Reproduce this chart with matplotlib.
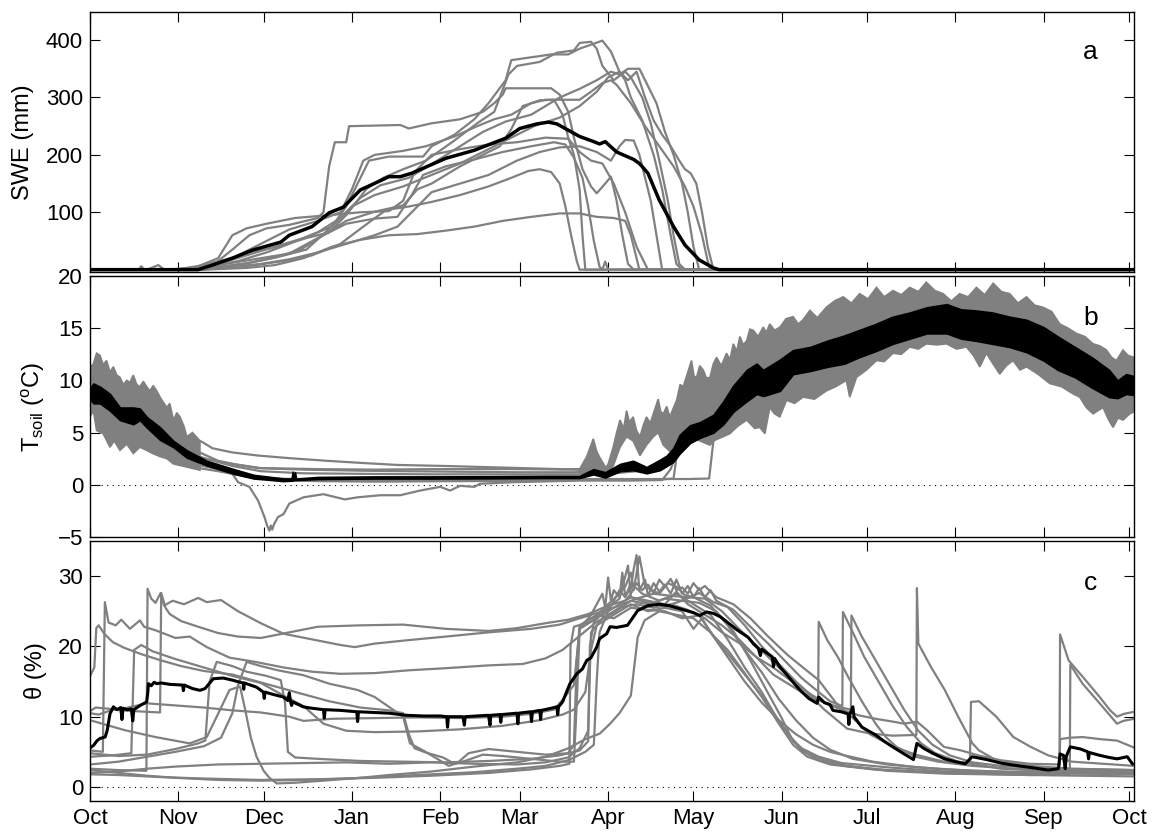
import matplotlib
matplotlib.use('Agg')
import matplotlib.pyplot as plt
import numpy as np

plt.rcParams['font.family'] = ['Liberation Sans', 'DejaVu Sans']
plt.rcParams['mathtext.fontset'] = 'custom'
plt.rcParams['mathtext.rm'] = 'Liberation Sans'
plt.rcParams['mathtext.it'] = 'Liberation Sans:italic'

# x axis is day of the water year, 0 = 1 October
month_days = [0, 31, 61, 92, 123, 151, 182, 212, 243, 273, 304, 335, 365]
month_labels = ['Oct', 'Nov', 'Dec', 'Jan', 'Feb', 'Mar', 'Apr', 'May',
                'Jun', 'Jul', 'Aug', 'Sep', 'Oct']
x_end = 366.8

GREY = '#808080'

# ---- (a) snow water equivalent, mm, per site: (day, swe)
swe_s1 = [(0, 0), (25, 0), (38, 3), (45, 15), (50, 35), (56, 60), (62, 72), (70, 78), (80, 90), (82, 100),
          (84, 180), (86, 222), (90, 222), (91, 250), (109, 252), (112, 246), (120, 255), (130, 262),
          (138, 275), (142, 290), (145, 305), (146, 316), (162, 316), (165, 305), (168, 275), (170, 230),
          (173, 175), (176, 145), (178, 133), (181, 150), (183, 162), (185, 120), (187, 60), (189, 10),
          (191, 0), (x_end, 0)]
swe_s2 = [(0, 0), (30, 0), (42, 5), (50, 20), (60, 45), (70, 70), (80, 85), (88, 100), (92, 140), (96, 190),
          (100, 200), (110, 207), (118, 215), (128, 232), (136, 250), (142, 262), (148, 270), (155, 290),
          (160, 296), (172, 296), (176, 310), (180, 325), (183, 330), (185, 322), (190, 290), (195, 250),
          (200, 215), (205, 180), (209, 145), (212, 110), (215, 60), (217, 15), (218, 0), (x_end, 0)]
swe_s3 = [(0, 0), (17, 0), (18, 6), (19, 0), (35, 0), (45, 10), (55, 25), (65, 40), (75, 55), (85, 75),
          (90, 110), (95, 160), (98, 190), (105, 197), (117, 197), (120, 215), (128, 235), (135, 262),
          (140, 290), (146, 330), (148, 365), (155, 370), (162, 375), (168, 375), (172, 385), (176, 392),
          (180, 399), (183, 380), (186, 345), (188, 330), (190, 300), (194, 260), (198, 200), (201, 140),
          (204, 60), (206, 10), (208, 0), (x_end, 0)]
swe_s4 = [(0, 0), (30, 0), (40, 8), (48, 18), (56, 30), (66, 40), (76, 55), (84, 65), (90, 95), (97, 140),
          (103, 160), (110, 175), (118, 190), (128, 225), (136, 255), (142, 275), (147, 340), (150, 355),
          (158, 362), (164, 378), (170, 382), (172, 395), (176, 397), (178, 385), (180, 355), (184, 330),
          (188, 345), (190, 335), (194, 300), (197, 255), (200, 190), (203, 120), (205, 60), (207, 10),
          (209, 0), (x_end, 0)]
swe_s5 = [(0, 0), (32, 0), (42, 5), (52, 15), (62, 30), (70, 45), (80, 65), (88, 90), (95, 125), (102, 147),
          (112, 160), (122, 190), (130, 215), (138, 240), (146, 258), (155, 270), (165, 300), (172, 315),
          (178, 330), (183, 345), (186, 340), (189, 350), (193, 350), (196, 320), (199, 290), (202, 240),
          (205, 200), (208, 150), (210, 100), (212, 40), (214, 0), (x_end, 0)]
swe_s6 = [(0, 0), (36, 0), (46, 5), (56, 12), (66, 22), (76, 35), (86, 80), (92, 110), (100, 130), (110, 145),
          (120, 165), (130, 185), (140, 210), (148, 230), (156, 250), (165, 265), (172, 285), (178, 310),
          (182, 335), (186, 345), (189, 330), (192, 345), (195, 300), (198, 260), (201, 235), (204, 215),
          (207, 190), (209, 175), (211, 168), (213, 150), (215, 100), (217, 40), (219, 0), (x_end, 0)]
swe_s7 = [(0, 0), (34, 0), (44, 4), (54, 10), (64, 20), (74, 35), (82, 60), (90, 85), (100, 101), (110, 112),
          (115, 140), (120, 150), (130, 180), (138, 200), (144, 215), (148, 245), (152, 285), (158, 295),
          (163, 296), (166, 270), (168, 230), (170, 200), (172, 140), (173, 60), (174, 0), (x_end, 0)]
swe_s8 = [(0, 0), (30, 0), (40, 5), (50, 12), (60, 20), (70, 28), (80, 55), (90, 80), (100, 89), (108, 92),
          (113, 130), (117, 165), (125, 180), (135, 192), (145, 205), (155, 215), (163, 222), (167, 218),
          (170, 195), (173, 160), (175, 110), (177, 50), (179, 5), (180, 0), (181, 14), (182, 0), (x_end, 0)]
swe_s9 = [(0, 0), (40, 0), (50, 5), (60, 10), (70, 18), (80, 30), (90, 45), (100, 60), (108, 75), (115, 110),
          (120, 135), (130, 150), (140, 165), (150, 190), (158, 205), (165, 213), (172, 215), (178, 205),
          (183, 190), (186, 215), (188, 226), (191, 225), (193, 200), (195, 160), (197, 120), (199, 60),
          (201, 0), (x_end, 0)]
swe_s10 = [(0, 0), (38, 0), (48, 3), (58, 8), (68, 15), (78, 25), (88, 45), (96, 75), (104, 104), (112, 110),
           (120, 118), (130, 130), (140, 145), (148, 160), (154, 172), (158, 175), (162, 170), (165, 150),
           (167, 110), (169, 60), (171, 15), (172, 0), (x_end, 0)]
swe_s11 = [(0, 0), (40, 0), (55, 3), (65, 8), (75, 20), (85, 40), (95, 52), (105, 60), (115, 62), (125, 68),
           (135, 75), (145, 85), (155, 92), (165, 98), (172, 98), (178, 92), (184, 90), (188, 85), (190, 60),
           (192, 20), (193, 0), (x_end, 0)]
swe_s12 = [(0, 0), (20, 0), (24, 8), (26, 0), (35, 0), (45, 20), (50, 60), (55, 72), (62, 80), (72, 90),
           (84, 95), (95, 100), (105, 102), (110, 120), (114, 170), (120, 200), (130, 210), (140, 218),
           (150, 222), (160, 230), (168, 228), (172, 205), (176, 190), (180, 185), (184, 150), (188, 100),
           (192, 40), (196, 0), (x_end, 0)]
swe_mean = [(0, 0), (38, 0), (43, 8), (50, 20), (57, 34), (67, 48), (70, 60), (78, 75), (84, 99), (89, 109),
            (95, 139), (102, 155), (105, 162), (109, 162), (113, 168), (125, 194), (135, 208), (146, 229),
            (151, 246), (157, 254), (161, 257), (164, 254), (172, 232), (177, 223), (179, 219), (181, 223),
            (185, 205), (191, 192), (193, 185), (196, 168), (200, 121), (205, 75), (209, 43), (214, 17),
            (219, 3), (221, 0), (x_end, 0)]
swe_sites = [swe_s1, swe_s2, swe_s3, swe_s4, swe_s5, swe_s6, swe_s7, swe_s8, swe_s9, swe_s10, swe_s11, swe_s12]

# ---- (b) soil temperature, degC
# spread of all sites while the daily cycle is strong (upper and lower traces)
tsoil_aut_hi = [(0, 11.2), (1.2, 11.6), (2.3, 12.6), (3.5, 12.4), (4.6, 11.5), (5.8, 11.9), (7, 10.8),
                (8.2, 11.3), (9.4, 10.5), (10.5, 10.3), (11.7, 9.6), (12.9, 10.0), (14, 9.8), (15.2, 10.5),
                (16.4, 9.6), (17.5, 9.4), (18.7, 9.9), (19.9, 9.4), (21, 9.0), (22.2, 9.5), (23.4, 9.0),
                (25, 8.2), (27, 7.4), (28, 7.8), (29.3, 6.2), (30.5, 6.9), (31.6, 6.5), (33, 5.6), (34, 4.6),
                (36, 5.0), (38.6, 4.2)]
tsoil_aut_lo = [(0, 6.5), (1.2, 7.1), (2.3, 5.2), (4.6, 4.9), (7, 3.6), (8.5, 4.2), (10.5, 3.3), (12.9, 3.9),
                (15.2, 3.0), (17.5, 3.6), (19.9, 3.3), (22, 3.0), (24.6, 2.7), (27, 2.5), (29.3, 2.0),
                (34, 1.7), (38.6, 1.4)]
tsoil_sum_hi = [(172.0, 1.5), (174.5, 2.7), (176.8, 4.4), (178, 3.2), (179.1, 2.6), (181.5, 1.5), (183.8, 3.6),
                (185, 5.0), (186.2, 6.2), (187.5, 5.4), (188.5, 7.1), (189.5, 6.0), (190.8, 6.5), (192, 5.2),
                (193.2, 4.6), (194.5, 5.8), (195.5, 6.5), (196.8, 5.9), (197.9, 6.8), (199.6, 8.2),
                (200.5, 7.0), (201.4, 6.8), (202.6, 7.5), (203.7, 6.5), (205, 7.4), (206.1, 8.1),
                (207.3, 9.6), (208.4, 9.4), (209.8, 10.6), (211.3, 11.9), (212.2, 10.4), (213.1, 10.3),
                (214.2, 11.4), (215.4, 11.0), (216.6, 10.2), (217.8, 10.3), (219, 11.6), (220.1, 12.2),
                (221.8, 11.4), (223.6, 12.6), (224.8, 12.0), (226, 13.5), (227.2, 12.8), (228.3, 14.2),
                (229.5, 13.4), (230.7, 13.8), (231.8, 14.9), (233, 14.8), (234.7, 14.2), (236.5, 15.1),
                (237.6, 14.6), (238.8, 15.4), (240.5, 14.8), (242.4, 15.1), (244.5, 15.9), (247, 16.1),
                (248.8, 15.4), (250.5, 15.8), (252.9, 16.7), (255.5, 16.0), (258.7, 17.0), (261.5, 17.6),
                (264.6, 18.0), (267.5, 17.4), (270.4, 18.3), (273.3, 17.8), (276.3, 18.9), (279, 18.0),
                (282.1, 18.6), (285, 18.2), (288, 18.9), (291, 18.5), (293.8, 19.4), (296.8, 18.6),
                (299.7, 18.3), (302.6, 17.6), (305.5, 18.3), (308.5, 18.0), (311.4, 18.9), (314.3, 18.2),
                (317.3, 19.3), (320.2, 18.5), (323.1, 18.3), (326, 17.4), (329, 18.0), (331.9, 17.2),
                (334.8, 17.0), (337.8, 16.6), (340.7, 15.4), (343.6, 15.0), (346.5, 14.5), (349.5, 14.2),
                (352.4, 13.5), (354.8, 13.3), (357.1, 12.9), (358.9, 12.2), (360.6, 11.9), (362.9, 12.9),
                (364.6, 12.4), (x_end, 12.2)]
tsoil_sum_lo = [(172.0, 1.0), (176.8, 1.6), (179.1, 1.4), (181.5, 1.0), (183.8, 1.8), (186.2, 3.6), (188.5, 4.6),
                (190.8, 4.2), (193.2, 2.8), (195.5, 3.8), (197.9, 4.6), (199.6, 5.0), (201.4, 3.8),
                (203.7, 3.2), (206.1, 3.6), (208.4, 4.0), (211.3, 4.5), (214.3, 4.2), (217.8, 3.8), (219, 4.2),
                (221.5, 4.5), (224.8, 4.9), (227.5, 5.6), (230.7, 6.2), (233.5, 5.4), (235.3, 5.5),
                (237.1, 4.9), (238.8, 7.4), (240.5, 6.8), (242.3, 6.5), (244.7, 8.1), (247.5, 7.8),
                (250.5, 8.4), (254.5, 8.2), (258.7, 9.0), (262, 9.4), (265.7, 10.0), (266.9, 8.4),
                (269.3, 10.3), (272.8, 11.0), (276.3, 11.9), (279, 11.8), (282.1, 12.6), (285, 12.5),
                (288, 13.2), (291, 13.0), (293.8, 13.5), (297.4, 13.4), (300.9, 13.5), (304.4, 13.0),
                (307.9, 13.2), (310.3, 12.4), (312.6, 11.3), (314.9, 12.6), (317.2, 11.6), (319.6, 10.6),
                (321.9, 11.4), (324.3, 11.9), (326.7, 11.0), (329, 11.3), (333, 10.6), (337.2, 9.7),
                (341.3, 9.4), (345.4, 8.7), (347.7, 8.4), (350, 7.4), (352.4, 6.8), (355.9, 7.4), (357.7, 6.3),
                (359.4, 5.5), (361.2, 6.4), (362.9, 6.2), (365.3, 6.8), (x_end, 7.0)]
# single sites under the snow pack
tsoil_w1 = [(36, 4.6), (40, 4.0), (43, 3.5), (50, 3.1), (59, 2.8), (70, 2.55), (83, 2.3), (95, 2.1), (108, 1.9),
            (125, 1.8), (145, 1.65), (165, 1.5), (173, 1.5), (176, 2.4)]
tsoil_w2 = [(36, 3.4), (45, 2.3), (52, 1.9), (59, 1.6), (75, 1.45), (95, 1.35), (110, 1.3), (130, 1.25),
            (150, 1.2), (170, 1.2), (180, 1.3), (184, 2.5)]
tsoil_w3 = [(36, 2.9), (42, 2.4), (50, 1.8), (60, 1.3), (75, 1.1), (95, 1.05), (120, 1.0), (150, 1.0), (172, 1.0),
            (184, 1.1), (192, 1.3), (200, 1.6), (204, 2.8), (206, 3.6)]
tsoil_w4 = [(36, 2.4), (45, 1.9), (50, 1.05), (52, 0.25), (56, -0.2), (59, -1.5), (61.3, -3.1), (62.2, -3.9),
            (63, -4.4), (63.5, -3.9), (64, -4.3), (64.6, -3.8), (66, -3.1), (68, -2.8), (70, -1.8), (75, -1.2),
            (82, -0.9), (89.5, -1.4), (94, -1.2), (102, -1.0), (109, -1.0), (116, -0.55), (123, -0.2),
            (126.5, -0.55), (130, -0.1), (135, -0.2), (137, 0.1), (149, 0.25), (172, 0.4), (190, 0.4),
            (201, 0.45), (204, 1.5), (207, 3.8)]
tsoil_w5 = [(36, 2.0), (45, 1.5), (55, 0.9), (65, 0.6), (80, 0.5), (100, 0.45), (130, 0.5), (160, 0.55),
            (190, 0.55), (210, 0.55), (217.5, 0.6), (218.5, 3.0), (219, 4.2)]
tsoil_w6 = [(36, 1.7), (45, 1.3), (55, 0.8), (65, 0.45), (80, 0.35), (100, 0.3), (130, 0.35), (160, 0.4),
            (180, 0.5), (200, 0.5), (205, 0.6), (206.5, 3.6)]
tsoil_w7 = [(36, 3.0), (40, 2.5), (50, 2.0), (60, 1.6), (80, 1.5), (100, 1.45), (120, 1.5), (150, 1.5),
            (172, 1.45), (176, 1.6)]
tsoil_sites = [tsoil_w1, tsoil_w2, tsoil_w3, tsoil_w4, tsoil_w5, tsoil_w6, tsoil_w7]
# mean over sites, daily min / max
tsoil_mean_day = [0, 1.2, 3.5, 7, 10.5, 15.2, 17.5, 19.9, 24.6, 29.3, 34, 41, 50.5, 57.5, 62, 68, 70.8, 71.2,
                  71.6, 72, 72.4, 80, 100, 120, 140, 160, 172, 176.8, 181, 186.2, 190.8, 195.5, 200.2, 202.6,
                  204.9, 207.2, 210.8, 214.3, 219, 222.5, 226, 230.7, 234.2, 236.5, 242.4, 247, 253, 259, 265,
                  270, 276, 282, 288, 294, 301, 306, 311, 317, 323, 329, 335, 340, 346, 352, 358, 361, 364, x_end]
tsoil_mean_hi = [9.3, 9.7, 9.4, 8.7, 7.4, 7.4, 7.3, 6.5, 5.5, 4.2, 3.3, 2.3, 1.5, 0.95, 0.8, 0.6, 0.6, 1.25,
                 0.6, 1.2, 0.6, 0.75, 0.8, 0.8, 0.82, 0.85, 0.85, 1.5, 1.2, 2.0, 2.3, 1.7, 2.4, 2.8,
                 3.5, 4.8, 5.7, 6.0, 6.7, 8.0, 9.5, 11.0, 11.6, 11.0, 12.0, 12.9, 13.2, 13.8, 14.3,
                 14.8, 15.4, 16.1, 16.5, 17.0, 17.3, 16.8, 16.7, 16.5, 16.1, 15.8, 15.1, 14.2, 13.2, 12.2, 11.0, 10.0,
                 10.6, 10.4]
tsoil_mean_lo = [8.2, 7.8, 7.8, 7.1, 6.2, 5.8, 6.2, 5.5, 4.3, 3.6, 2.6, 1.85, 1.05, 0.6, 0.5, 0.35, 0.4, 0.4,
                 0.45, 0.45, 0.45, 0.55, 0.6, 0.6, 0.62, 0.65, 0.65, 1.0, 0.7, 1.3, 1.4, 1.1, 1.4, 1.8,
                 2.2, 3.0, 4.0, 4.5, 5.0, 5.8, 7.0, 8.0, 8.7, 8.5, 9.0, 10.6, 10.9, 11.3, 11.6,
                 12.2, 12.8, 13.5, 14.0, 14.5, 14.5, 14.0, 13.8, 13.5, 13.2, 12.7, 11.9, 11.0, 10.3, 9.3, 8.4, 8.3,
                 8.7, 8.6]

# ---- (c) soil moisture, %, per site: (day, theta)
theta_s1 = [(0, 2.6), (10, 2.4), (19.8, 2.3), (20.2, 28.2), (21.5, 26.8), (23, 26.2), (24.8, 27.6), (26, 25.8),
            (29, 26.5), (33, 26.0), (38, 26.9), (41, 26.3), (46, 26.6), (52, 25.0), (60, 23.3), (68, 21.8),
            (78, 21.0), (88, 20.2), (93, 19.9), (100, 20.4), (112, 20.9), (125, 21.4), (140, 22.0), (155, 22.5),
            (165, 23.1), (172, 24.0), (180, 25.0), (186, 25.8), (192, 26.8), (198, 27.5), (204, 27.2),
            (210, 27.0), (216, 26.8), (222, 25.0), (228, 22.5), (235, 19.8), (242, 17.0), (250, 14.2),
            (258, 11.0), (266, 8.3), (274, 7.6), (282, 7.3), (290.3, 7.4), (290.5, 28.3), (291, 20.4),
            (295.4, 17.1), (300.3, 13.8), (305, 10.0), (310, 6.2), (312.3, 5.2), (318.4, 3.8), (330, 3.0),
            (345, 2.6), (x_end, 2.4)]
theta_s2 = [(0, 10.5), (3, 10.3), (8, 11.0), (15, 10.8), (24.6, 10.6), (25, 27.6), (26.5, 25.5), (28, 24.6),
            (32, 23.6), (38, 22.8), (45, 21.9), (52, 21.4), (60, 21.2), (70, 22.0), (80, 22.8), (95, 23.0),
            (110, 23.1), (125, 22.5), (140, 22.2), (150, 22.6), (160, 23.3), (168, 23.8), (175, 24.6),
            (182, 25.8), (188, 26.5), (190, 27.5), (192, 29.0), (194, 28.0), (196, 28.8), (198, 27.6),
            (200, 29.5), (202, 28.5), (204, 29.6), (206, 28.0), (208, 28.4), (210, 27.5), (212, 29.0),
            (214, 28.0), (216, 28.6), (220, 27.0), (226, 26.0), (232, 24.0), (238, 21.5), (245, 18.8),
            (252, 16.5), (256, 15.2), (262, 12.0), (268, 9.8), (274, 7.5), (282, 5.8), (290, 4.6), (300, 3.6),
            (309.1, 3.4), (309.5, 12.1), (312.3, 12.2), (318.4, 10.0), (324.4, 7.1), (330.5, 5.7),
            (336.6, 4.5), (345, 3.6), (x_end, 3.0)]
theta_s3 = [(0, 5.2), (4.5, 5.0), (5.2, 26.3), (6.5, 23.4), (9, 23.0), (11, 23.8), (14, 22.5), (17.5, 23.7),
            (19, 22.8), (23, 22.3), (30, 21.2), (35, 21.4), (41, 19.9), (49, 18.4), (58, 17.8), (68, 17.0),
            (78, 16.4), (88, 16.1), (100, 16.2), (112, 16.6), (125, 16.9), (140, 17.3), (152, 17.5),
            (160, 18.3), (166, 19.5), (172, 21.5), (178, 23.5), (184, 24.8), (190, 26.5), (196, 26.0),
            (202, 26.8), (208, 26.5), (214, 27.6), (219, 26.3), (224, 25.6), (230, 23.0), (236, 20.0),
            (242, 17.5), (248, 15.0), (254, 12.8), (255.8, 12.2), (256, 23.5), (259, 20.9), (262.7, 18.5),
            (266.3, 15.7), (271, 12.3), (276, 9.0), (279.6, 7.1), (283.3, 5.7), (290, 4.3), (298, 3.6),
            (310, 3.0), (325, 2.6), (345, 2.3), (x_end, 2.2)]
theta_s4 = [(0, 15.8), (1.5, 17), (2.2, 22.6), (3, 23.0), (5, 21.8), (8, 20.6), (12, 19.8), (18, 18.9),
            (25, 18.0), (32, 17.2), (40, 16.5), (50, 16.0), (58, 15.1), (66, 14.2), (74, 13.3), (84, 12.2),
            (95, 11.3), (105, 10.9), (110, 10.5), (112, 7.5), (114, 5.5), (118, 4.9), (124, 4.2), (128, 3.3),
            (131, 3.6), (138, 4.6), (145, 4.4), (155, 4.0), (165, 3.6), (170, 3.6), (171, 12), (172, 22.5),
            (176, 23.5), (182, 26.0), (186, 27.5), (188, 28.5), (190, 30.5), (191, 28), (193, 32.8),
            (195, 28.5), (200, 27.5), (203, 29.0), (206, 28.5), (209, 27.3), (212, 27.0), (218, 25.8),
            (224, 23.0), (230, 19.5), (236, 16.3), (242, 12.5), (248, 9.5), (254, 7.0), (260, 5.3), (268, 4.0),
            (280, 3.2), (300, 2.5), (330, 2.0), (x_end, 1.8)]
theta_s5 = [(0, 4.8), (10, 4.4), (20, 4.6), (30, 5.4), (38, 6.2), (40.5, 6.6), (42, 15), (44.5, 17.8),
            (50, 17.2), (55, 16.4), (62, 15.8), (67, 15.2), (68.5, 12), (69.5, 5.0), (72, 4.2), (80, 4.0),
            (95, 3.7), (110, 3.6), (125, 3.5), (140, 3.7), (155, 4.0), (165, 4.5), (172, 5.2), (175, 6.5),
            (175.6, 20), (177, 23.5), (182, 25.5), (186, 26.8), (189, 31.5), (190, 27), (196, 26.2),
            (202, 25.7), (208, 26.5), (214, 26.2), (220, 25.0), (226, 22.2), (232, 18.0), (238, 13.5),
            (243, 9.8), (247, 6.5), (252, 4.8), (258, 3.8), (266, 3.0), (280, 2.3), (300, 1.9), (330, 1.7),
            (344.2, 1.8), (344.4, 17.4), (348.7, 14.7), (354.7, 11.9), (360.8, 9.0), (363, 9.4), (x_end, 9.7)]
theta_s6 = [(0, 3.2), (10, 3.6), (20, 4.3), (30, 5.0), (40, 5.8), (46, 7.0), (50, 10.5), (52, 14.5),
            (55, 17.8), (60, 17.2), (66, 16.6), (75, 15.9), (84, 14.7), (94, 13.8), (100, 12.8), (105, 11.4),
            (110, 10.0), (112.4, 6.2), (117, 5.2), (122, 4.0), (126, 3.0), (129, 3.4), (133, 4.8), (140, 5.4),
            (150, 5.0), (160, 4.6), (168, 4.8), (170, 6), (171, 18), (172, 23), (178, 24.5), (184, 24.0),
            (190, 25.5), (196, 25.2), (202, 25.0), (208, 24.0), (214, 24.4), (219, 21.5), (224, 19.5),
            (230, 16.2), (236, 12.8), (242, 9.0), (247, 6.0), (252, 4.3), (260, 3.2), (275, 2.5), (300, 2.0),
            (330, 1.7), (x_end, 1.5)]
theta_s7 = [(0, 9.5), (6, 8.8), (12, 8.1), (23, 7.1), (35, 6.2), (41, 7.1), (44.5, 10.0), (49, 13.8),
            (52.7, 14.3), (54.5, 11.0), (56.5, 7.0), (58.5, 4.3), (61, 2.3), (63, 1.3), (65.6, 0.5), (72, 0.6),
            (82, 0.9), (95, 1.3), (105, 1.7), (120, 2.2), (135, 2.9), (150, 3.5), (160, 4.3), (168, 5.5),
            (174, 6.8), (179.1, 7.6), (182.7, 9.0), (186, 10.5), (190, 13.0), (192.4, 21.3), (194.8, 23.7),
            (200, 25.0), (206, 24.5), (212, 24.0), (218, 22.0), (224, 19.0), (230, 16.0), (236, 13.0),
            (241, 10.0), (245, 7.5), (250, 5.5), (256, 4.3), (264, 3.4), (280, 2.8), (300, 2.2), (330, 2.0),
            (x_end, 1.9)]
theta_s8 = [(0, 10.8), (2, 11.3), (10, 11.0), (20, 11.9), (30, 11.6), (40, 11.3), (50, 10.9), (60, 10.6),
            (70, 10.0), (75, 9.4), (85, 9.7), (100, 9.8), (115, 9.9), (130, 9.8), (145, 10.0), (155, 10.4),
            (163, 11.0), (166, 12.4), (170, 14.5), (172, 22.5), (176, 24.5), (180, 27.5), (181, 25.5),
            (182, 29.8), (183, 26.5), (184, 28.0), (186, 27.0), (187, 30.5), (188, 27.2), (190, 28.2),
            (191, 31.0), (192, 33.0), (193, 28.0), (195, 29.5), (196, 27.2), (198, 29.0), (200, 27.8),
            (202, 28.8), (204, 27.5), (206, 29.5), (208, 27.5), (210, 28.6), (212, 27.0), (214, 28.3),
            (216, 27.0), (218, 28.0), (220, 26.5), (226, 25.2), (232, 22.8), (238, 20.5), (244, 18.0),
            (250, 15.5), (256, 13.5), (260, 12.2), (264.3, 11.5), (264.5, 24.9), (268, 22.0), (272, 18.5),
            (277, 15.0), (282, 11.5), (287, 8.5), (292, 6.2), (297, 4.8), (305, 3.6), (320, 2.6), (340, 2.2),
            (x_end, 2.0)]
theta_s9 = [(0, 4.3), (8, 4.5), (14.5, 4.8), (15.5, 19.5), (18, 20.2), (22, 19.3), (30, 18.2), (40, 17.0),
            (50, 15.8), (60, 14.8), (68, 13.0), (75, 11.5), (82, 9.0), (90, 8.0), (100, 7.8), (115, 7.9),
            (130, 8.2), (145, 8.7), (158, 9.5), (166, 10.3), (170, 11.0), (174, 13.5), (176, 19.5), (178, 23.0),
            (184, 24.5), (190, 26.0), (196, 25.0), (202, 25.5), (208, 25.0), (212, 22.5), (215, 24.0),
            (218, 22.0), (224, 18.5), (230, 15.0), (236, 12.0), (242, 9.5), (248, 7.5), (254, 6.0), (260, 5.0),
            (265, 4.5), (275, 3.6), (290, 2.8), (310, 2.3), (330, 2.1), (x_end, 2.0)]
theta_s10 = [(0, 2.4), (10, 2.0), (20, 1.6), (30, 1.3), (45, 1.0), (60, 0.9), (75, 1.0), (90, 1.2), (105, 1.5),
             (120, 1.8), (135, 2.1), (150, 2.6), (160, 3.0), (168, 3.8), (174, 5.0), (177, 6.0), (178, 15),
             (179, 22.0), (182, 25.0), (186, 28.0), (188, 27), (190, 29.0), (194, 27.5), (200, 26.5),
             (206, 27.5), (212, 26.0), (218, 24.5), (224, 21.0), (230, 17.0), (236, 13.5), (241, 10.0),
             (246, 7.2), (250, 5.2), (256, 3.8), (265, 3.0), (280, 2.4), (300, 2.0), (320, 1.9), (340.6, 2.2),
             (340.8, 6.8), (344, 7.0), (348.7, 7.1), (355, 6.8), (360.8, 6.6), (x_end, 5.6)]
theta_s11 = [(0, 1.8), (10, 1.7), (25, 1.4), (40, 1.2), (60, 1.0), (80, 1.1), (100, 1.3), (120, 1.6),
             (140, 2.0), (155, 2.5), (165, 3.0), (168.4, 3.3), (168.8, 20.0), (170, 22.8), (175, 23.4),
             (180, 24.5), (186, 26.0), (190, 27.0), (196, 26.5), (202, 26.0), (206, 27.8), (210, 26.0),
             (216, 24.5), (222, 23.0), (228, 21.0), (234, 18.5), (240, 16.0), (246, 14.5), (252, 13.0),
             (258, 12.0), (262, 11.5), (267.3, 11.0), (267.5, 24.4), (271, 21.5), (276, 18.0), (281, 14.5),
             (286, 11.0), (291, 8.0), (296, 6.0), (302, 4.5), (310, 3.5), (320, 3.0), (340, 2.6), (x_end, 2.4)]
theta_s12 = [(0, 2.0), (10, 2.2), (20, 2.6), (30, 2.9), (45, 3.2), (60, 3.3), (75, 3.4), (90, 3.5), (105, 3.3),
             (120, 3.5), (135, 3.3), (150, 3.2), (160, 3.5), (168, 4.2), (172, 5.5), (175, 8), (176, 22),
             (180, 24.0), (186, 25.5), (192, 26.0), (198, 25.5), (204, 26.0), (210, 25.2), (216, 24.0),
             (222, 22.0), (228, 20.5), (234, 18.5), (240, 17.0), (246, 15.2), (252, 13.5), (258, 12.0),
             (264, 11.0), (270, 10.2), (276, 9.7), (282, 9.3), (286, 9.0), (290.5, 9.3), (294, 8.1), (300, 5.7),
             (306, 5.2), (312, 4.5), (320, 3.8), (330, 3.3), (340.6, 3.2), (340.8, 21.7), (343.8, 18.0),
             (348.7, 15.7), (354.7, 12.8), (358.4, 10.9), (360.8, 10.0), (363.2, 10.4), (x_end, 10.7)]
theta_sites = [theta_s1, theta_s2, theta_s3, theta_s4, theta_s5, theta_s6, theta_s7, theta_s8, theta_s9,
               theta_s10, theta_s11, theta_s12]
theta_mean = [(0.5, 5.7), (1.2, 5.9), (2.5, 6.6), (3.5, 6.9), (5.3, 7.1), (6, 8.0), (7, 10.4), (8.2, 11.4),
              (9.5, 11.0), (10.8, 11.3), (11.2, 9.6), (11.6, 11.2), (13, 11.0), (14.5, 11.1), (15.0, 9.4),
              (15.4, 11.0), (17.6, 11.6), (19.9, 12.1), (20.3, 13.5), (20.5, 14.7), (21.5, 14.4), (22.5, 14.9),
              (23.4, 14.7), (25, 14.8), (28, 14.6), (32.5, 14.5), (32.8, 13.7), (33.1, 14.5), (36, 14.0),
              (38.6, 13.75), (40.4, 14.0), (43.3, 15.4), (46.8, 15.5), (50, 15.2), (52.7, 14.9), (53.8, 14.8),
              (54, 13.9), (54.2, 14.8), (58.5, 14.2), (60.9, 13.5), (61.2, 12.6), (61.5, 13.5), (64, 13.2),
              (67.9, 12.8), (69.5, 12.3), (70, 13.4), (70.4, 12.2), (70.8, 11.6), (71.2, 12.1), (74.9, 11.4),
              (78, 11.2), (82, 11.0), (82.3, 9.8), (82.6, 11.0), (88, 10.9), (93.7, 10.7), (94, 9.3),
              (94.3, 10.7), (100, 10.6), (105, 10.5), (111, 10.2), (117, 10.1), (123, 10.1), (125.3, 10.0),
              (125.6, 8.5), (125.9, 10.0), (131, 10.0), (131.5, 8.8), (131.8, 10.0), (140, 10.2), (140.5, 8.8),
              (140.8, 10.2), (144, 10.3), (144.3, 9.2), (144.6, 10.3), (150, 10.5), (150.3, 9.0), (150.6, 10.5),
              (154.8, 10.7), (155.1, 9.3), (155.4, 10.7), (158, 10.9), (158.3, 9.6), (158.6, 10.9), (162, 11.2),
              (164, 11.4), (164.3, 10.3), (164.6, 11.4), (166, 12.1), (168.6, 14.7), (171, 16.1), (173, 16.8),
              (174.5, 18.0), (176, 18.4), (178, 19.9), (179, 21.1), (181.5, 21.8), (182.7, 22.8), (185, 22.7),
              (188.8, 23.0), (190.5, 24.0), (192.4, 25.1), (196, 25.8), (200, 26.0), (203.3, 25.8), (206, 25.5),
              (209.4, 25.1), (212, 24.8), (214.2, 24.4), (216.6, 24.9), (219, 24.7), (221.5, 24.2), (224, 23.4),
              (227.5, 22.3), (231.2, 21.3), (233, 20.4), (234.8, 19.7), (235.5, 18.7), (236, 19.6),
              (239.7, 18.5), (240.1, 17.1), (240.5, 18.3), (242.3, 17.1), (244.5, 16.1), (247, 14.9),
              (249.4, 13.8), (252.5, 12.6), (255.4, 11.9), (256, 12.8), (258, 12.0), (260, 11.7), (261, 10.9),
              (263.9, 10.7), (266.3, 10.4), (266.6, 8.9), (266.9, 10.3), (268, 11.4), (268.4, 10.0),
              (271.2, 8.5), (276, 7.4), (279, 6.5), (282, 5.7), (286, 4.7), (289.3, 3.9), (290.5, 6.2),
              (292.9, 5.5), (296, 4.8), (300.2, 4.0), (304, 3.6), (307.5, 3.3), (309.9, 4.3), (315, 3.9),
              (320, 3.4), (324.4, 3.1), (330, 2.8), (336.6, 2.4), (340.2, 2.6), (340.8, 4.7), (342, 4.5),
              (342.6, 2.6), (343, 4.4), (344.4, 5.7), (348, 5.4), (350.5, 5.0), (350.8, 4.0), (351.1, 4.9),
              (354.7, 4.5), (358, 4.2), (360.8, 4.0), (364.4, 4.3), (366.2, 3.3)]


def xy(pairs):
    arr = np.array(pairs, dtype=float)
    return arr[:, 0], arr[:, 1]


def band(ax, upper, lower, **kw):
    ux, uy = xy(upper)
    lx, ly = xy(lower)
    ax.fill(np.r_[ux, lx[::-1]], np.r_[uy, ly[::-1]], **kw)


def style_axis(ax):
    ax.set_xlim(0, x_end)
    ax.set_xticks(month_days)
    ax.tick_params(direction='in', length=7.5, width=0.8, top=True, right=True,
                   labelsize=16, pad=5)
    for sp in ax.spines.values():
        sp.set_linewidth(1.0)


fig = plt.figure(figsize=(11.53, 8.35), dpi=100)
ax_a = fig.add_axes([0.0781, 0.6743, 0.9055, 0.3114])
ax_b = fig.add_axes([0.0781, 0.3569, 0.9055, 0.3126])
ax_c = fig.add_axes([0.0781, 0.0407, 0.9055, 0.3114])

# (a) SWE
for site in swe_sites:
    ax_a.plot(*xy(site), color=GREY, lw=1.6)
ax_a.plot(*xy(swe_mean), color='k', lw=2.5)
ax_a.set_ylim(-4, 449)
ax_a.set_yticks([100, 200, 300, 400])
ax_a.set_ylabel('SWE (mm)', fontsize=17)
ax_a.yaxis.set_label_coords(-0.054, 0.5)

# (b) soil temperature
ax_b.axhline(0, color='k', lw=0.8, ls=(0, (1, 4)), zorder=1)
band(ax_b, tsoil_aut_hi, tsoil_aut_lo, color=GREY, lw=1.2, zorder=2)
band(ax_b, tsoil_sum_hi, tsoil_sum_lo, color=GREY, lw=1.2, zorder=2)
for site in tsoil_sites:
    ax_b.plot(*xy(site), color=GREY, lw=1.6, zorder=2)
ax_b.fill_between(tsoil_mean_day, tsoil_mean_lo, tsoil_mean_hi, color='k', lw=1.2, zorder=3)
ax_b.set_ylim(-5, 20)
ax_b.set_yticks([-5, 0, 5, 10, 15, 20])
ax_b.set_ylabel(r'T$_{\mathrm{soil}}$ ($^{\mathrm{o}}$C)', fontsize=17)
ax_b.yaxis.set_label_coords(-0.041, 0.5)

# (c) soil moisture
ax_c.axhline(0, color='k', lw=0.8, ls=(0, (1, 4)), zorder=1)
for site in theta_sites:
    ax_c.plot(*xy(site), color=GREY, lw=1.6, zorder=2)
ax_c.plot(*xy(theta_mean), color='k', lw=2.2, zorder=3)
ax_c.set_ylim(-2, 35)
ax_c.set_yticks([0, 10, 20, 30])
ax_c.set_ylabel('θ (%)', fontsize=17)
ax_c.yaxis.set_label_coords(-0.041, 0.5)

for ax, letter, ypos in [(ax_a, 'a', 0.846), (ax_b, 'b', 0.839), (ax_c, 'c', 0.838)]:
    style_axis(ax)
    ax.text(0.958, ypos, letter, transform=ax.transAxes, fontsize=19,
            ha='center', va='center')

ax_a.set_xticklabels([])
ax_b.set_xticklabels([])
ax_c.set_xticklabels(month_labels)

fig.savefig('out.png', dpi=100)
